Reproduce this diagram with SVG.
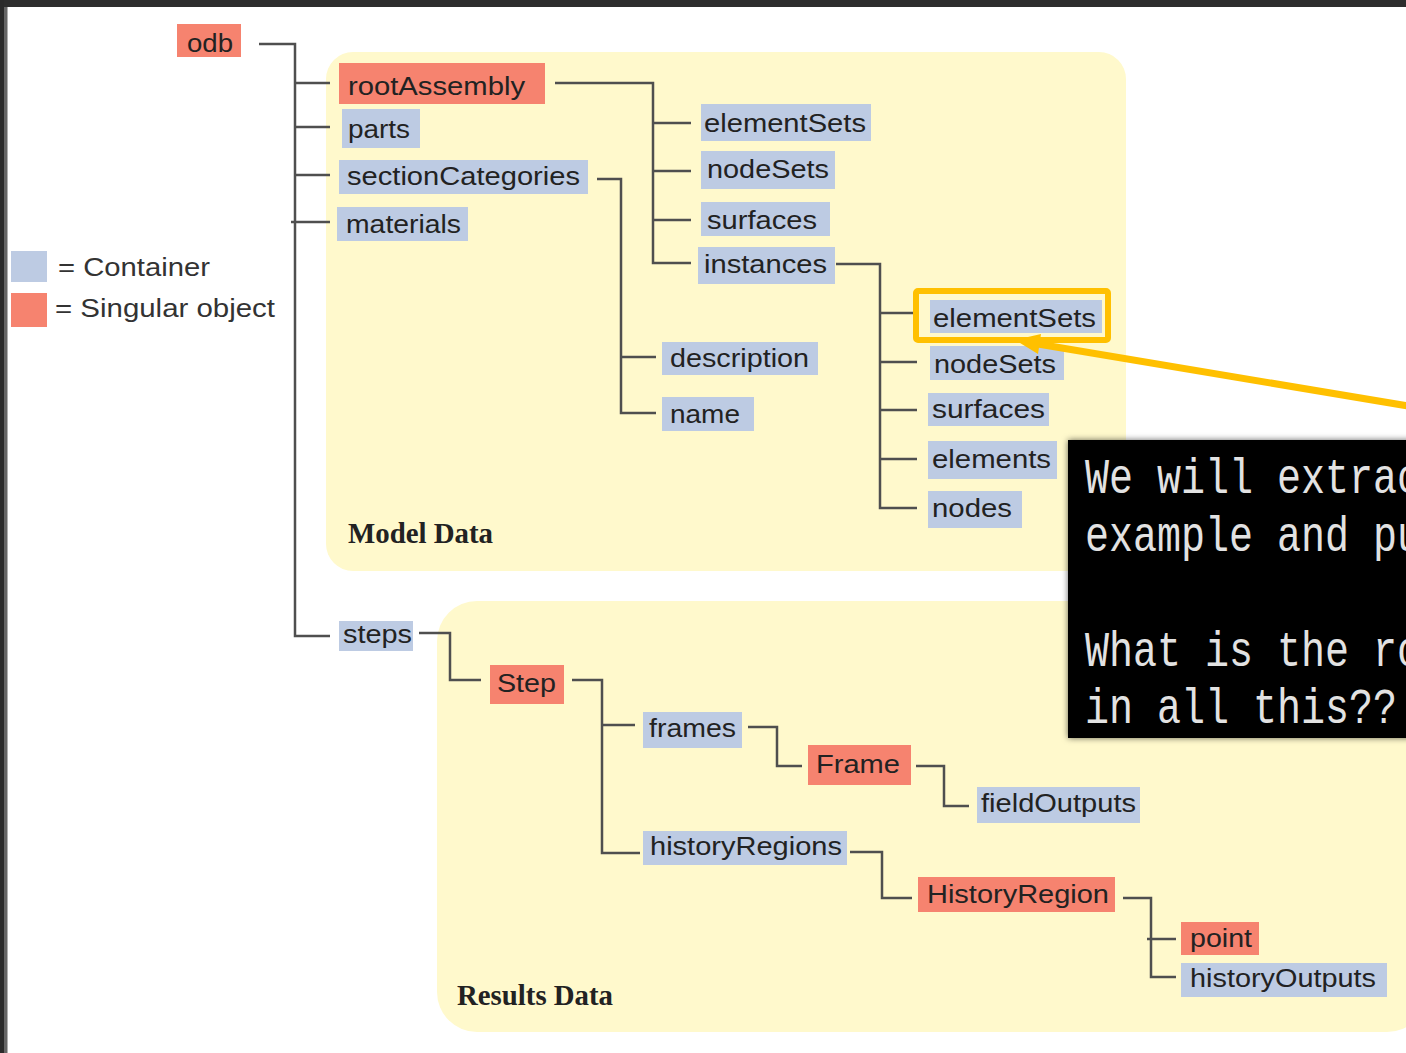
<svg xmlns="http://www.w3.org/2000/svg" width="1406" height="1053" viewBox="0 0 1406 1053">
<defs>
<style>
.c{fill:#bdcbe3}
.s{fill:#f6836f}
.t{font-family:"Liberation Sans",Arial,sans-serif;font-size:26px;fill:#222}
.ln{fill:none;stroke:#4f4f4f;stroke-width:2.5}
.panel{fill:#fff9cc}
.lbl{font-family:"Liberation Serif","Times New Roman",serif;font-weight:bold;font-size:29px;fill:#222}
.mono{font-family:"Liberation Mono","Courier New",monospace;font-size:40px;fill:#e2e2e2}
</style>
<filter id="sh" x="-10%" y="-10%" width="120%" height="120%">
<feDropShadow dx="0" dy="0" stdDeviation="3" flood-color="#000" flood-opacity="0.6"/>
</filter>
</defs>
<rect x="0" y="0" width="1406" height="1053" fill="#fff"/>
<rect x="0" y="0" width="1406" height="7" fill="#2d2d2d"/>
<rect x="0" y="0" width="4" height="1053" fill="#2b2b2b"/>
<rect x="4" y="7" width="3" height="1046" fill="#666"/>
<rect x="7" y="7" width="1" height="1046" fill="#b0b0b0"/>

<g id="panel-model">
<rect class="panel" x="326" y="52" width="800" height="519" rx="27"/>
<text class="lbl" x="348" y="543" textLength="145" lengthAdjust="spacingAndGlyphs">Model Data</text>
</g>
<g id="panel-results">
<rect class="panel" x="437" y="601" width="990" height="431" rx="40"/>
<text class="lbl" x="457" y="1005" textLength="156" lengthAdjust="spacingAndGlyphs">Results Data</text>
</g>

<g id="legend">
<rect class="c" x="11" y="251" width="36" height="31"/>
<rect class="s" x="11" y="293" width="36" height="34"/>
<text class="t" x="58" y="276" font-size="25" style="font-size:25px;fill:#333" textLength="152" lengthAdjust="spacingAndGlyphs">= Container</text>
<text class="t" x="55" y="317" style="font-size:25px;fill:#333" textLength="220" lengthAdjust="spacingAndGlyphs">= Singular object</text>
</g>

<g id="connectors">
<path class="ln" d="M259,44 H295 V636 H330"/>
<path class="ln" d="M295,83 H330 M295,127 H330 M295,175 H330 M291,222 H330"/>
<path class="ln" d="M555,83 H653 V263 H691 M653,123 H691 M653,171 H691 M653,220 H691"/>
<path class="ln" d="M597,179 H621 V413 H656 M621,357 H656"/>
<path class="ln" d="M836,264 H880 V508 H917 M880,313 H917 M880,362 H917 M880,410 H917 M880,459 H917"/>
<path class="ln" d="M419,633 H450 V680 H481"/>
<path class="ln" d="M572,680 H602 V853 H640 M602,725 H635"/>
<path class="ln" d="M748,727 H777 V766 H802"/>
<path class="ln" d="M916,766 H944 V806 H969"/>
<path class="ln" d="M850,852 H882 V898 H912"/>
<path class="ln" d="M1123,898 H1151 V977 H1176 M1147,939 H1176"/>
</g>

<g id="n-odb"><rect class="s" x="177" y="24" width="64" height="33"/><text class="t" x="187" y="52" textLength="46" lengthAdjust="spacingAndGlyphs">odb</text></g>
<g id="n-rootAssembly"><rect class="s" x="339" y="63" width="206" height="41"/><text class="t" x="348" y="95" textLength="177" lengthAdjust="spacingAndGlyphs">rootAssembly</text></g>
<g id="n-parts"><rect class="c" x="342" y="109" width="78" height="39"/><text class="t" x="348" y="138" textLength="62" lengthAdjust="spacingAndGlyphs">parts</text></g>
<g id="n-sectionCategories"><rect class="c" x="339" y="160" width="249" height="34"/><text class="t" x="347" y="185" textLength="233" lengthAdjust="spacingAndGlyphs">sectionCategories</text></g>
<g id="n-materials"><rect class="c" x="337" y="207" width="131" height="34"/><text class="t" x="346" y="233" textLength="115" lengthAdjust="spacingAndGlyphs">materials</text></g>
<g id="n-elementSets1"><rect class="c" x="701" y="104" width="170" height="37"/><text class="t" x="704" y="132" textLength="162" lengthAdjust="spacingAndGlyphs">elementSets</text></g>
<g id="n-nodeSets1"><rect class="c" x="701" y="151" width="134" height="38"/><text class="t" x="707" y="178" textLength="122" lengthAdjust="spacingAndGlyphs">nodeSets</text></g>
<g id="n-surfaces1"><rect class="c" x="701" y="202" width="129" height="34"/><text class="t" x="707" y="229" textLength="110" lengthAdjust="spacingAndGlyphs">surfaces</text></g>
<g id="n-instances"><rect class="c" x="698" y="247" width="137" height="37"/><text class="t" x="704" y="273" textLength="123" lengthAdjust="spacingAndGlyphs">instances</text></g>
<g id="n-description"><rect class="c" x="662" y="342" width="156" height="33"/><text class="t" x="670" y="367" textLength="139" lengthAdjust="spacingAndGlyphs">description</text></g>
<g id="n-name"><rect class="c" x="662" y="397" width="92" height="34"/><text class="t" x="670" y="423" textLength="70" lengthAdjust="spacingAndGlyphs">name</text></g>
<g id="n-elementSets2"><rect class="c" x="930" y="300" width="172" height="33"/><text class="t" x="933" y="327" textLength="163" lengthAdjust="spacingAndGlyphs">elementSets</text></g>
<g id="n-nodeSets2"><rect class="c" x="930" y="346" width="134" height="34"/><text class="t" x="934" y="373" textLength="122" lengthAdjust="spacingAndGlyphs">nodeSets</text></g>
<g id="n-surfaces2"><rect class="c" x="928" y="393" width="121" height="33"/><text class="t" x="932" y="418" textLength="113" lengthAdjust="spacingAndGlyphs">surfaces</text></g>
<g id="n-elements"><rect class="c" x="928" y="441" width="129" height="38"/><text class="t" x="932" y="468" textLength="119" lengthAdjust="spacingAndGlyphs">elements</text></g>
<g id="n-nodes"><rect class="c" x="928" y="491" width="94" height="37"/><text class="t" x="932" y="517" textLength="80" lengthAdjust="spacingAndGlyphs">nodes</text></g>
<g id="n-steps"><rect class="c" x="339" y="621" width="74" height="30"/><text class="t" x="343" y="643" textLength="69" lengthAdjust="spacingAndGlyphs">steps</text></g>
<g id="n-Step"><rect class="s" x="490" y="665" width="74" height="39"/><text class="t" x="497" y="692" textLength="59" lengthAdjust="spacingAndGlyphs">Step</text></g>
<g id="n-frames"><rect class="c" x="643" y="712" width="99" height="36"/><text class="t" x="649" y="737" textLength="87" lengthAdjust="spacingAndGlyphs">frames</text></g>
<g id="n-Frame"><rect class="s" x="808" y="745" width="103" height="40"/><text class="t" x="816" y="773" textLength="84" lengthAdjust="spacingAndGlyphs">Frame</text></g>
<g id="n-fieldOutputs"><rect class="c" x="977" y="787" width="163" height="36"/><text class="t" x="981" y="812" textLength="155" lengthAdjust="spacingAndGlyphs">fieldOutputs</text></g>
<g id="n-historyRegions"><rect class="c" x="643" y="831" width="204" height="34"/><text class="t" x="650" y="855" textLength="192" lengthAdjust="spacingAndGlyphs">historyRegions</text></g>
<g id="n-HistoryRegion"><rect class="s" x="918" y="877" width="197" height="35"/><text class="t" x="927" y="903" textLength="182" lengthAdjust="spacingAndGlyphs">HistoryRegion</text></g>
<g id="n-point"><rect class="s" x="1181" y="922" width="78" height="33"/><text class="t" x="1190" y="947" textLength="62" lengthAdjust="spacingAndGlyphs">point</text></g>
<g id="n-historyOutputs"><rect class="c" x="1181" y="963" width="206" height="34"/><text class="t" x="1190" y="987" textLength="186" lengthAdjust="spacingAndGlyphs">historyOutputs</text></g>

<g id="highlight">
<rect x="916" y="291" width="192" height="49" fill="none" stroke="#ffc000" stroke-width="6" rx="2"/>
<line x1="1420" y1="408" x2="1038" y2="344" stroke="#ffc000" stroke-width="7"/>
<polygon points="1015,340 1041,334 1038,354" fill="#ffc000"/>
</g>

<g id="callout">
<rect x="1068" y="440" width="360" height="298" fill="#000" filter="url(#sh)"/>
<g transform="scale(1,1.25)">
<text class="mono" x="1085" y="394.4">We will extrac</text>
<text class="mono" x="1085" y="440.8">example and pu</text>
<text class="mono" x="1085" y="532.8">What is the ro</text>
<text class="mono" x="1085" y="578.4">in all this??</text>
</g>
</g>
</svg>
